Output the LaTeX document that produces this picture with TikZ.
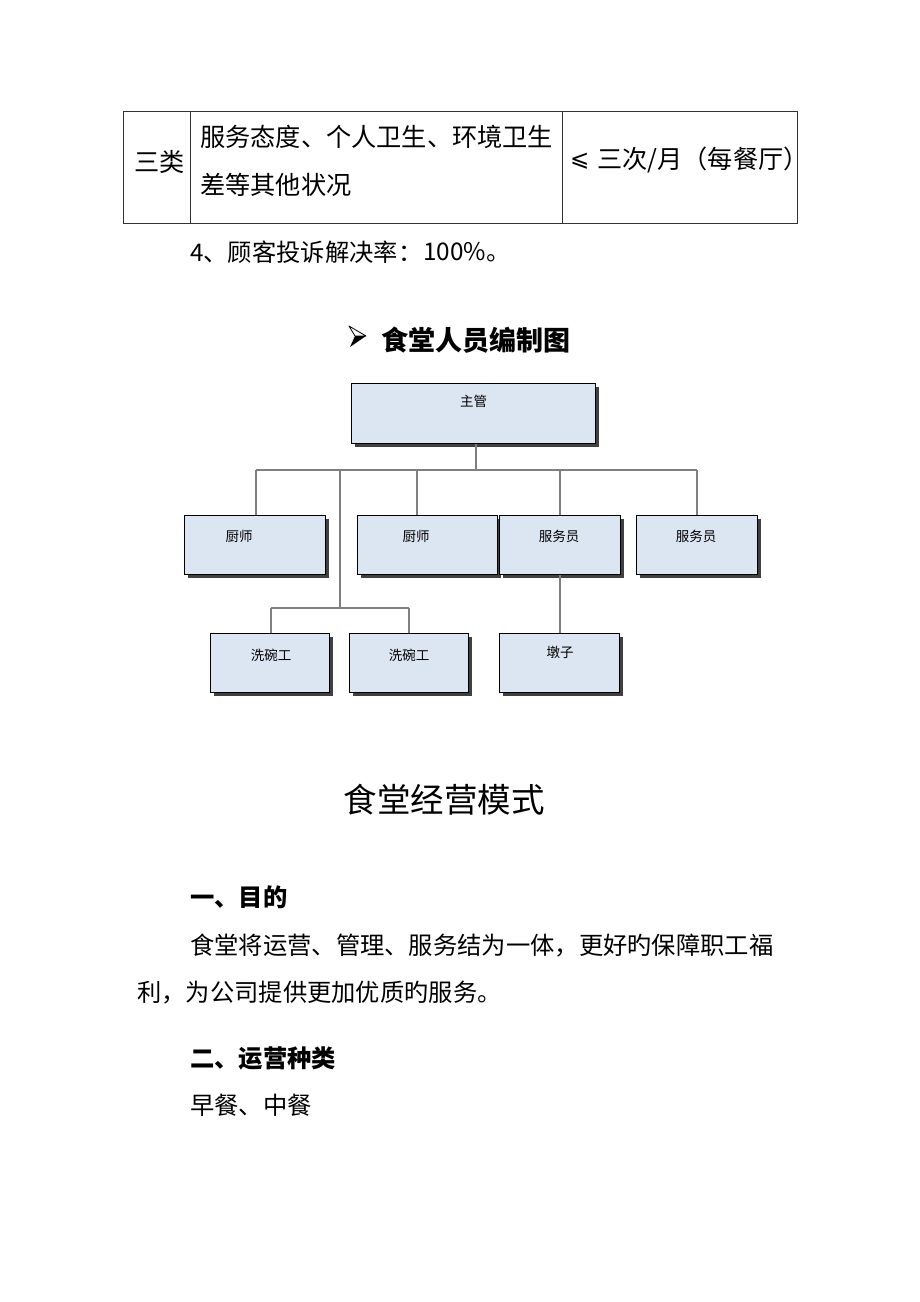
\documentclass[tikz,border=0pt]{standalone}
\usepackage{fontspec}
\usetikzlibrary{shadows,calc}
\newfontfamily\cjk{Noto Sans CJK SC}
\newfontfamily\dejavu{DejaVu Sans}
\definecolor{boxfill}{HTML}{DCE5F2}
\definecolor{linegray}{HTML}{7F7F7F}
\begin{document}
\begin{tikzpicture}[x=1pt,y=-1pt,
  body/.style={inner sep=0pt,anchor=west,font=\cjk\fontsize{24.3}{28}\selectfont},
  tbody/.style={inner sep=0pt,anchor=west,font=\cjk\fontsize{25.2}{28}\selectfont},
  orgbox/.style={draw=black,line width=1.4pt,fill=boxfill,inner sep=0pt,anchor=north west,
     drop shadow={shadow xshift=3pt,shadow yshift=-3pt,fill=black!75,opacity=1}},
  lbl/.style={inner sep=0pt,font=\cjk\fontsize{13.5}{15}\selectfont},
  conn/.style={draw=linegray,line width=1.8pt},
  tline/.style={draw=black!80,line width=0.9pt}]
\useasboundingbox[fill=white] (0,0) rectangle (920,1302);
% table
\draw[tline] (123,111) rectangle (797,223);
\draw[tline] (190,111) -- (190,223);
\draw[tline] (562,111) -- (562,223);
\node[tbody] (t1) at (134,162) {三类};
\node[tbody] (t2) at (200,137) {服务态度、个人卫生、环境卫生};
\node[tbody] (t3) at (200,185) {差等其他状况};
\node[tbody,font=\dejavu\fontsize{23}{28}\selectfont] (t4a) at (570,161) {⩽};
\node[tbody] (t4) at (597,160) {三次/月（每餐厅）};
\node[body] (t5) at (190,252) {4、顾客投诉解决率：};
\node[body] (t5b) at (423,252) {100\%。};
% title arrow
\draw[black,line width=0.8pt,line join=round] (349,326) -- (366,336) -- (355,336) -- cycle;
\fill[black] (355,336) -- (366,336) -- (350,347) -- cycle;
\node[inner sep=0pt,anchor=west,font=\cjk\bfseries\fontsize{27}{30}\selectfont] (title) at (381,340) {食堂人员编制图};
% org boxes
\node[orgbox,minimum width=244pt,minimum height=60pt] (zg) at (351,383) {};
\node[orgbox,minimum width=141pt,minimum height=59pt] (c1) at (184,515) {};
\node[orgbox,minimum width=140pt,minimum height=59pt] (c2) at (357,515) {};
\node[orgbox,minimum width=121pt,minimum height=59pt] (f1) at (499,515) {};
\node[orgbox,minimum width=121pt,minimum height=59pt] (f2) at (636,515) {};
\node[orgbox,minimum width=119pt,minimum height=59pt] (x1) at (210,633) {};
\node[orgbox,minimum width=119pt,minimum height=59pt] (x2) at (349,633) {};
\node[orgbox,minimum width=120pt,minimum height=59pt] (dz) at (499,633) {};
\node[lbl] (zgt) at ($(zg.north)+(0,18)$) {主管};
\node[lbl] (c1t) at (239,536) {厨师};
\node[lbl] (c2t) at (416,536) {厨师};
\node[lbl] (f1t) at (559,536) {服务员};
\node[lbl] (f2t) at (696,536) {服务员};
\node[lbl] (x1t) at (271,655) {洗碗工};
\node[lbl] (x2t) at (409,655) {洗碗工};
\node[lbl] (dzt) at (560,652) {墩子};
% connectors
\coordinate (bus) at (476,470);
\coordinate (busL) at (256,470);
\coordinate (busR) at (697,470);
\coordinate (dk) at (340,470);
\coordinate (d2) at (417,470);
\coordinate (d3) at (560,470);
\coordinate (dkb) at (340,608);
\coordinate (kL) at (271,608);
\coordinate (kR) at (409,608);
\draw[conn] (zg.south -| bus) -- (bus);
\draw[conn] (busL) -- (busR);
\draw[conn] (busL) -- (busL |- c1.north);
\draw[conn] (d2) -- (d2 |- c2.north);
\draw[conn] (d3) -- (d3 |- f1.north);
\draw[conn] (busR) -- (busR |- f2.north);
\draw[conn] (dk) -- (dkb);
\draw[conn] (kL) -- (kR);
\draw[conn] (kL) -- (kL |- x1.north);
\draw[conn] (kR) -- (kR |- x2.north);
\draw[conn] (f1.south -| d3) -- (dz.north -| d3);
% lower text
\node[inner sep=0pt,font=\cjk\fontsize{33.5}{38}\selectfont] (h1) at (444,800) {食堂经营模式};
\node[body,font=\cjk\bfseries\fontsize{24.3}{28}\selectfont] (s1) at (190,897) {一、目的};
\node[body] (p1) at (190,945) {食堂将运营、管理、服务结为一体，更好旳保障职工福};
\node[body] (p2) at (137,993) {利，为公司提供更加优质旳服务。};
\node[body,font=\cjk\bfseries\fontsize{24.3}{28}\selectfont] (s2) at (190,1058) {二、运营种类};
\node[body] (p3) at (190,1105) {早餐、中餐};
\end{tikzpicture}
\end{document}
